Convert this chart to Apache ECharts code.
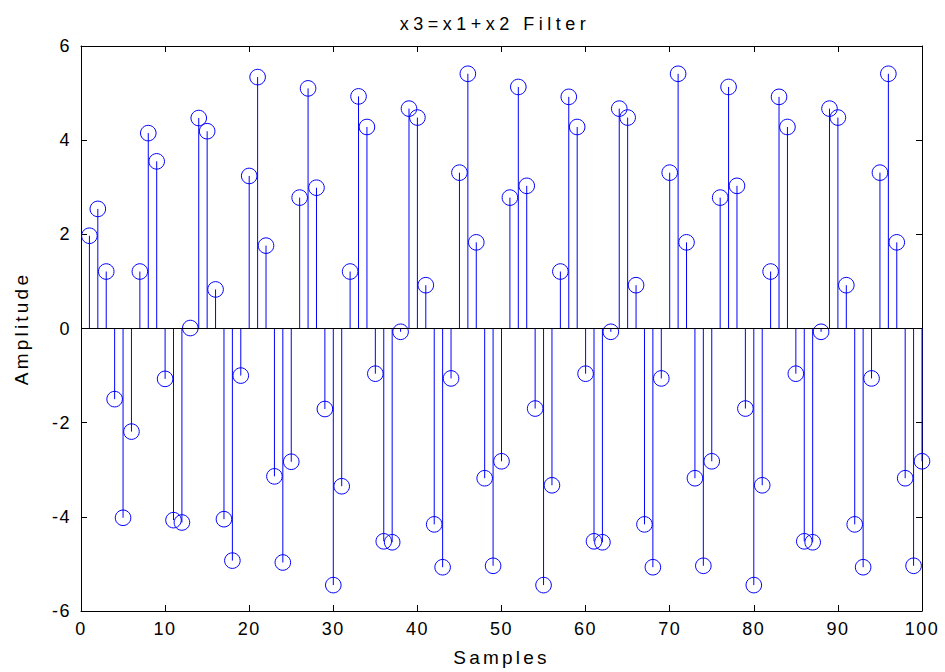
<!DOCTYPE html>
<html>
<head>
<meta charset="utf-8">
<script src="https://cdn.jsdelivr.net/npm/echarts@6/dist/echarts.min.js"></script>
<style>
html,body{margin:0;padding:0;background:#fff;}
#chart{width:945px;height:672px;}
</style>
</head>
<body>
<div id="chart"></div>
<script>
const samples = Array.from({length: 100}, (_, i) => i + 1);
const amplitude = [
  1.97, 2.54, 1.21, -1.50, -4.02, -2.19, 1.21, 4.15, 3.55, -1.07,
  -4.07, -4.12, 0.01, 4.47, 4.19, 0.83, -4.05, -4.93, -1.00, 3.24,
  5.34, 1.76, -3.14, -4.97, -2.83, 2.78, 5.10, 2.99, -1.71, -5.45,
  -3.35, 1.21, 4.93, 4.28, -0.96, -4.52, -4.54, -0.07, 4.67, 4.48,
  0.92, -4.16, -5.07, -1.06, 3.31, 5.41, 1.83, -3.18, -5.04, -2.82,
  2.78, 5.13, 3.03, -1.70, -5.45, -3.33, 1.21, 4.92, 4.28, -0.96,
  -4.52, -4.54, -0.07, 4.67, 4.48, 0.92, -4.16, -5.07, -1.06, 3.31,
  5.41, 1.83, -3.18, -5.04, -2.82, 2.78, 5.13, 3.03, -1.70, -5.45,
  -3.33, 1.21, 4.92, 4.28, -0.96, -4.52, -4.54, -0.07, 4.67, 4.48,
  0.92, -4.16, -5.07, -1.06, 3.31, 5.41, 1.83, -3.18, -5.04, -2.82
];
const titleText = 'x3=x1+x2 Filter';
const xLabel = 'Samples';
const yLabel = 'Amplitude';
const xTicks = [0, 10, 20, 30, 40, 50, 60, 70, 80, 90, 100];
const yTicks = [-6, -4, -2, 0, 2, 4, 6];

const data = samples.map((s, i) => [s, amplitude[i]]);
const font = '"Liberation Sans", Arial, sans-serif';
const chart = echarts.init(document.getElementById('chart'), null, {renderer: 'svg'});

const axisCommon = {
  axisLine: {show: true, onZero: false, lineStyle: {color: '#000', width: 1}},
  axisTick: {show: true, inside: true, length: 6, lineStyle: {color: '#000', width: 1}},
  splitLine: {show: false}
};

chart.setOption({
  animation: false,
  backgroundColor: '#fff',
  title: {
    text: titleText,
    left: 490, top: 10, textAlign: 'center',
    textStyle: {fontFamily: font, fontSize: 18, fontWeight: 'normal', color: '#000'}
  },
  grid: {left: 81, right: 23, top: 46, bottom: 59},
  xAxis: [
    Object.assign({
      type: 'value', min: xTicks[0], max: xTicks[xTicks.length - 1], interval: 10, position: 'bottom',
      name: xLabel, nameLocation: 'middle', nameGap: 37,
      nameTextStyle: {fontFamily: font, fontSize: 19, color: '#000'},
      axisLabel: {fontFamily: font, fontSize: 18, color: '#000', margin: 9}
    }, axisCommon),
    Object.assign({
      type: 'value', min: xTicks[0], max: xTicks[xTicks.length - 1], interval: 10, position: 'top',
      axisLabel: {show: false}
    }, axisCommon)
  ],
  yAxis: [
    Object.assign({
      type: 'value', min: yTicks[0], max: yTicks[yTicks.length - 1], interval: 2, position: 'left',
      name: yLabel, nameLocation: 'middle', nameGap: 50, nameRotate: 90,
      nameTextStyle: {fontFamily: font, fontSize: 19, color: '#000'},
      axisLabel: {fontFamily: font, fontSize: 18, color: '#000', margin: 10}
    }, axisCommon),
    Object.assign({
      type: 'value', min: yTicks[0], max: yTicks[yTicks.length - 1], interval: 2, position: 'right',
      axisLabel: {show: false}
    }, axisCommon)
  ],
  series: [
    {
      type: 'custom',
      xAxisIndex: 0, yAxisIndex: 0,
      data: data,
      clip: false,
      renderItem: function (params, api) {
        const x = api.value(0), y = api.value(1);
        const base = api.coord([x, 0]);
        const top = api.coord([x, y]);
        return {
          type: 'group',
          children: [
            {type: 'line', shape: {x1: base[0], y1: base[1], x2: top[0], y2: top[1]},
             style: {stroke: '#0000ff', lineWidth: 1}},
            {type: 'circle', shape: {cx: top[0], cy: top[1], r: 7.8},
             style: {stroke: '#0000ff', fill: 'none', lineWidth: 1}}
          ]
        };
      },
      markLine: {
        silent: true, symbol: 'none', animation: false,
        label: {show: false},
        lineStyle: {color: '#000', width: 1, type: 'solid'},
        data: [{yAxis: 0}]
      }
    }
  ]
});

// Emulate the wide letter spacing of the original figure's text.
function spaceText() {
  document.querySelectorAll('#chart svg text').forEach(function (t) {
    const s = t.textContent;
    let ls = '1.5px';
    if (s === titleText) ls = '4.5px';
    else if (s === xLabel || s === yLabel) ls = '3.2px';
    t.style.letterSpacing = ls;
  });
}
spaceText();
chart.on('finished', spaceText);
</script>
</body>
</html>
